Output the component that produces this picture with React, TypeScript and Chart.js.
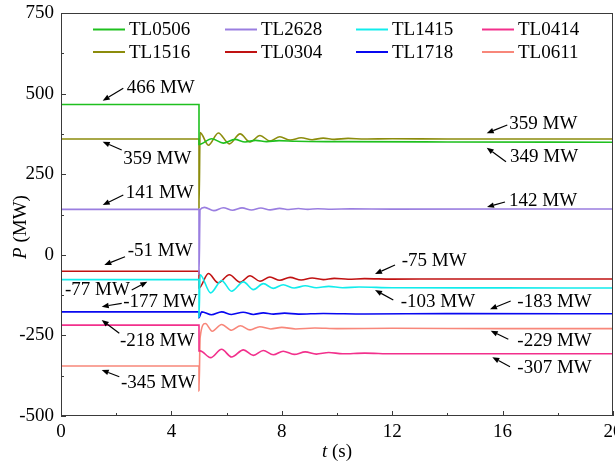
import React, { useEffect, useRef } from 'react';
import { Chart, registerables } from 'chart.js';
Chart.register(...registerables);

const seriesLabels = ['TL0506', 'TL2628', 'TL1415', 'TL0414', 'TL1516', 'TL0304', 'TL1718', 'TL0611'];
const seriesColors = ['#1fc01f', '#9a7ee0', '#12ecec', '#f2308c', '#8c8c0c', '#c01212', '#0808f0', '#f8877a'];

const tl0506T = [0, 5, 5, 5.46, 5.88, 6.3, 6.67, 7.05, 7.45, 7.9, 8.5, 10, 14, 20];
const tl0506P = [466, 466, 342, 360, 346.5, 358, 350, 355, 351, 354, 352, 351, 350, 349];

const tl2628T = [0, 5, 5, 5.04, 5.2, 5.54, 5.88, 6.22, 6.56, 6.9, 7.24, 7.58, 7.92, 8.26, 8.6, 8.94, 9.3, 9.8, 10.5, 12, 20];
const tl2628P = [141, 141, -60, 140, 147, 137, 146, 138, 145.5, 139, 145, 139.5, 144, 140.5, 143.5, 141, 143, 141.5, 142.5, 141.8, 142];

const tl1415T = [0, 5, 5, 5.04, 5.42, 5.82, 6.18, 6.61, 6.97, 7.33, 7.69, 8.05, 8.45, 8.85, 9.25, 9.7, 10.2, 10.8, 12, 16, 20];
const tl1415P = [-77, -77, -194, -62, -118, -80, -113, -84, -108, -89.5, -104, -93, -103, -96, -102, -98, -102, -100, -102, -102.5, -103];

const tl0414T = [0, 5, 5, 5.04, 5.42, 5.82, 6.18, 6.61, 6.97, 7.33, 7.69, 8.05, 8.45, 8.85, 9.25, 9.7, 10.2, 11, 12, 20];
const tl0414P = [-218, -218, -298, -298, -319, -293, -317, -295, -312, -297, -310, -299, -309, -301, -308, -303, -307, -305, -307, -307];

const tl1516T = [0, 5, 5, 5.04, 5.34, 5.7, 6.1, 6.49, 6.85, 7.21, 7.57, 7.93, 8.3, 8.7, 9.1, 9.5, 9.9, 10.4, 11, 12, 14, 20];
const tl1516P = [359, 359, 144, 379, 340, 378, 344, 375, 350, 370, 353, 366, 356, 363, 357, 362, 358, 361, 359, 360, 359, 359];

const tl0304T = [0, 5, 5, 5.34, 5.7, 6.1, 6.49, 6.85, 7.21, 7.57, 7.93, 8.3, 8.7, 9.1, 9.5, 9.9, 10.4, 11, 12, 14, 20];
const tl0304P = [-51, -51, -103, -58, -87, -62, -85, -65, -82, -69, -79, -70, -78, -72, -77, -73, -76, -74, -75.5, -75, -75];

const tl1718T = [0, 5, 5, 5.1, 5.45, 5.82, 6.18, 6.6, 6.97, 7.33, 7.7, 8.1, 8.6, 9.5, 11, 14, 20];
const tl1718P = [-177, -177, -195, -177, -186, -177, -185, -178, -185, -180, -184, -181, -184, -182, -183.5, -182.5, -183];

const tl0611T = [0, 5, 5, 5.04, 5.23, 5.48, 5.82, 6.18, 6.5, 6.85, 7.2, 7.6, 8.0, 8.5, 9.2, 10, 12, 16, 20];
const tl0611P = [-345, -345, -422, -257, -213, -237, -216, -234, -220, -233, -223, -230, -225, -230, -227, -229, -228, -229, -229];

const seriesTimes = [tl0506T, tl2628T, tl1415T, tl0414T, tl1516T, tl0304T, tl1718T, tl0611T];
const seriesValues = [tl0506P, tl2628P, tl1415P, tl0414P, tl1516P, tl0304P, tl1718P, tl0611P];

const xMin = 0, xMax = 20, xStep = 4, xMinor = 2;
const yMin = -500, yMax = 750, yStep = 250, yMinor = 125;

// annotation: text, text anchor (t, P), arrow tail (t, P), arrow head (t, P)
const notes = [
  { text: '466 MW', tx: 2.38, ty: 520.5, x0: 2.257, y0: 516.4, x1: 1.511, y1: 478.0 },
  { text: '359 MW', tx: 2.257, ty: 299.3, x0: 2.199, y0: 325.1, x1: 1.511, y1: 350.8 },
  { text: '141 MW', tx: 2.344, ty: 195.7, x0: 2.257, y0: 185.5, x1: 1.511, y1: 154.5 },
  { text: '-51 MW', tx: 2.417, ty: 14.9, x0: 2.319, y0: -5.9, x1: 1.569, y1: -31.6 },
  { text: '-77 MW', tx: 0.145, ty: -106.1, x0: 2.562, y0: -109.2, x1: 3.127, y1: -83.4 },
  { text: '-177 MW', tx: 2.257, ty: -144.8, x0: 2.199, y0: -150.4, x1: 1.475, y1: -161 },
  { text: '-218 MW', tx: 2.138, ty: -264.3, x0: 2.112, y0: -243.5, x1: 1.475, y1: -202.2 },
  { text: '-345 MW', tx: 2.174, ty: -393.6, x0: 2.112, y0: -378.1, x1: 1.475, y1: -357.3 },
  { text: '359 MW', tx: 16.243, ty: 407.9, x0: 16.17, y0: 402.6, x1: 15.424, y1: 376.9 },
  { text: '349 MW', tx: 16.268, ty: 306.5, x0: 16.123, y0: 288.8, x1: 15.424, y1: 332.2 },
  { text: '142 MW', tx: 16.232, ty: 170, x0: 16.087, y0: 163.8, x1: 15.435, y1: 148.3 },
  { text: '-75 MW', tx: 12.344, ty: -16.1, x0: 12.101, y0: -31.6, x1: 11.377, y1: -59.5 },
  { text: '-103 MW', tx: 12.308, ty: -143.3, x0: 12.04, y0: -140.2, x1: 11.377, y1: -109.2 },
  { text: '-183 MW', tx: 16.533, ty: -143.3, x0: 16.293, y0: -143.3, x1: 15.543, y1: -169 },
  { text: '-229 MW', tx: 16.533, ty: -264.3, x0: 16.207, y0: -262.1, x1: 15.569, y1: -235.4 },
  { text: '-307 MW', tx: 16.533, ty: -348.9, x0: 16.268, y0: -347.1, x1: 15.627, y1: -317.9 },
];

const FONT = '"Liberation Serif", "Times New Roman", serif';

const decorPlugin = {
  id: 'decor',
  afterDraw(chart: any) {
    const { ctx, chartArea, scales } = chart;
    const xs = scales.x, ys = scales.y;
    const { left, right, top, bottom } = chartArea;
    ctx.save();
    // frame
    ctx.strokeStyle = '#3a3a3a';
    ctx.lineWidth = 1;
    ctx.strokeRect(Math.round(left) + 0.5, Math.round(top) + 0.5, Math.round(right - left) - 1, Math.round(bottom - top) - 1);
    // ticks
    ctx.beginPath();
    for (let v = xMin; v <= xMax + 1e-9; v += xMinor) {
      const px = Math.round(xs.getPixelForValue(v)) + 0.5;
      const len = Math.abs(v / xStep - Math.round(v / xStep)) < 1e-6 ? 5 : 3;
      ctx.moveTo(px, bottom);
      ctx.lineTo(px, bottom - len);
    }
    for (let v = yMin; v <= yMax + 1e-9; v += yMinor) {
      const py = Math.round(ys.getPixelForValue(v)) + 0.5;
      const len = Math.abs(v / yStep - Math.round(v / yStep)) < 1e-6 ? 5 : 3;
      ctx.moveTo(left, py);
      ctx.lineTo(left + len, py);
    }
    ctx.stroke();

    // legend
    const colX = [93, 225, 356, 482];
    const rowY = [29.5, 52];
    ctx.font = `19px ${FONT}`;
    ctx.textBaseline = 'middle';
    ctx.textAlign = 'left';
    seriesLabels.forEach((lab, i) => {
      const c = i % 4, r = Math.floor(i / 4);
      ctx.strokeStyle = seriesColors[i];
      ctx.lineWidth = 2;
      ctx.beginPath();
      ctx.moveTo(colX[c], rowY[r]);
      ctx.lineTo(colX[c] + 32, rowY[r]);
      ctx.stroke();
      ctx.fillStyle = '#000';
      ctx.fillText(lab, colX[c] + 36, rowY[r] + 1);
    });

    // annotations
    notes.forEach((n) => {
      const tx = xs.getPixelForValue(n.tx), ty = ys.getPixelForValue(n.ty);
      const ax0 = xs.getPixelForValue(n.x0), ay0 = ys.getPixelForValue(n.y0);
      const ax1 = xs.getPixelForValue(n.x1), ay1 = ys.getPixelForValue(n.y1);
      ctx.fillStyle = '#000';
      ctx.fillText(n.text, tx, ty + 1);
      const ang = Math.atan2(ay1 - ay0, ax1 - ax0);
      const hl = 7, hw = 2.8;
      const bx = ax1 - hl * Math.cos(ang), by = ay1 - hl * Math.sin(ang);
      ctx.strokeStyle = '#000';
      ctx.lineWidth = 1.2;
      ctx.beginPath();
      ctx.moveTo(ax0, ay0);
      ctx.lineTo(bx, by);
      ctx.stroke();
      ctx.beginPath();
      ctx.moveTo(ax1, ay1);
      ctx.lineTo(bx + hw * Math.sin(ang), by - hw * Math.cos(ang));
      ctx.lineTo(bx - hw * Math.sin(ang), by + hw * Math.cos(ang));
      ctx.closePath();
      ctx.fill();
    });

    // axis titles
    const drawTitle = (a: string, b: string, cx: number, cy: number, rot: number) => {
      ctx.save();
      ctx.translate(cx, cy);
      ctx.rotate(rot);
      ctx.font = `italic 19px ${FONT}`;
      const wa = ctx.measureText(a).width;
      ctx.font = `19px ${FONT}`;
      const wb = ctx.measureText(b).width;
      const sx = -(wa + wb) / 2;
      ctx.fillStyle = '#000';
      ctx.textAlign = 'left';
      ctx.textBaseline = 'middle';
      ctx.font = `italic 19px ${FONT}`;
      ctx.fillText(a, sx, 0);
      ctx.font = `19px ${FONT}`;
      ctx.fillText(b, sx + wa, 0);
      ctx.restore();
    };
    drawTitle('P', ' (MW)', 21, 227, -Math.PI / 2);
    drawTitle('t', ' (s)', (left + right) / 2, 452, 0);
    ctx.restore();
  },
};

export default function App() {
  const ref = useRef<HTMLCanvasElement | null>(null);
  useEffect(() => {
    document.body.style.margin = '0';
    if (!ref.current) return;
    Chart.defaults.font.family = FONT;
    const tickFont = { family: FONT, size: 19 };
    const chart = new Chart(ref.current, {
      type: 'line',
      data: {
        datasets: seriesLabels.map((lab, i) => ({
          label: lab,
          data: seriesTimes[i].map((t, k) => ({ x: t, y: seriesValues[i][k] })),
          borderColor: seriesColors[i],
          backgroundColor: seriesColors[i],
          borderWidth: 1.6,
          pointRadius: 0,
          cubicInterpolationMode: 'monotone' as const,
          fill: false,
        })),
      },
      options: {
        animation: false,
        responsive: false,
        devicePixelRatio: 1,
        layout: { padding: { top: 13, right: 2, left: 0, bottom: 0 }, autoPadding: false } as any,
        plugins: { legend: { display: false }, tooltip: { enabled: false } },
        scales: {
          x: {
            type: 'linear',
            min: xMin,
            max: xMax,
            grid: { display: false, drawTicks: false },
            border: { display: false },
            ticks: { stepSize: xStep, font: tickFont, color: '#000', padding: 5, maxRotation: 0, autoSkip: false },
            afterFit: (s: any) => { s.height = 45; s.paddingLeft = 0; s.paddingRight = 0; },
          },
          y: {
            type: 'linear',
            min: yMin,
            max: yMax,
            grid: { display: false, drawTicks: false },
            border: { display: false },
            ticks: { stepSize: yStep, font: tickFont, color: '#000', padding: 7, autoSkip: false },
            afterFit: (s: any) => { s.width = 61; s.paddingTop = 0; s.paddingBottom = 0; },
          },
        },
      },
      plugins: [decorPlugin],
    });
    return () => chart.destroy();
  }, []);
  return (
    <div style={{ width: 615, height: 461 }}>
      <canvas ref={ref} width={615} height={461} style={{ display: 'block', width: 615, height: 461 }} />
    </div>
  );
}
